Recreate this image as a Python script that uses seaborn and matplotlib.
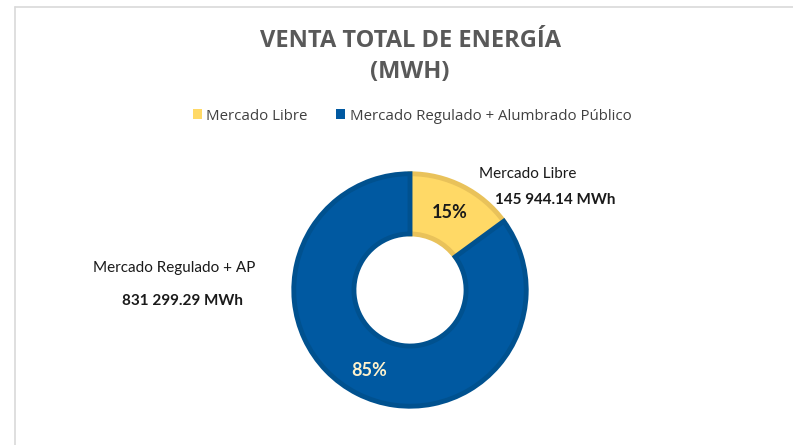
import matplotlib

matplotlib.use("Agg")
import matplotlib.pyplot as plt
from matplotlib.lines import Line2D
from matplotlib.patches import Patch
import seaborn as sns

# data ----------------------------------------------------------------------
segments = ["Mercado Libre", "Mercado Regulado + Alumbrado Público"]
short_labels = ["Mercado Libre", "Mercado Regulado + AP"]
energy_mwh = [145944.14, 831299.29]
fill_colors = ["#FFD966", "#0059A1"]
edge_colors = ["#E9C25A", "#00518F"]

sns.set_theme(style="white")
plt.rcParams["font.family"] = ["Open Sans", "DejaVu Sans"]

W, H = 793, 445
fig = plt.figure(figsize=(W / 100, H / 100), dpi=100)
fig.patch.set_facecolor("white")


def fx(px):
    return px / W


def fy(py):
    return 1 - py / H


# chart frame (top + left border)
fig.add_artist(Line2D([fx(15), 1], [fy(7), fy(7)], color="#D9D9D9", lw=1.2))
fig.add_artist(Line2D([fx(15), fx(15)], [fy(7), 0], color="#D9D9D9", lw=1.2))

# donut ----------------------------------------------------------------------
cx, cy, r = 410, 290, 118
ax = fig.add_axes([fx(cx - r), fy(cy + r), 2 * r / W, 2 * r / H])
wedges, _ = ax.pie(
    energy_mwh,
    colors=fill_colors,
    startangle=90,
    counterclock=False,
    radius=0.985,
    wedgeprops=dict(width=0.51, linewidth=3.5),
)
for w, ec in zip(wedges, edge_colors):
    w.set_edgecolor(ec)
ax.set_xlim(-1, 1)
ax.set_ylim(-1, 1)
ax.set_aspect("equal")
ax.axis("off")

total = sum(energy_mwh)
pcts = [f"{v / total * 100:.0f}%" for v in energy_mwh]

# title -------------------------------------------------------------------------
fig.text(fx(410), fy(41), "VENTA TOTAL DE ENERGÍA", ha="center", va="center",
         fontsize=17, fontweight="bold", color="#595959")
fig.text(fx(410), fy(72), "(MWH)", ha="center", va="center",
         fontsize=17, fontweight="bold", color="#595959")

# legend ------------------------------------------------------------------------
handles = [Patch(facecolor=c, edgecolor="none") for c in fill_colors]
leg = fig.legend(handles, segments, loc="center", bbox_to_anchor=(fx(412), fy(116)),
                 ncol=2, frameon=False, handlelength=0.6,
                 handleheight=0.6, handletextpad=0.3, columnspacing=1.9,
                 prop={"family": ["Open Sans", "DejaVu Sans"], "size": 10.8})
for t in leg.get_texts():
    t.set_color("#404040")

# data labels -------------------------------------------------------------------
lab_font = ["Lato", "DejaVu Sans"]
fig.text(fx(528), fy(174), short_labels[0], ha="center", va="center",
         fontsize=11, family=lab_font, color="#1a1a1a")
fig.text(fx(555), fy(200), f"{energy_mwh[0]:,.2f}".replace(",", " ") + " MWh",
         ha="center", va="center", fontsize=11, fontweight="bold",
         family=lab_font, color="#1a1a1a")
fig.text(fx(174), fy(268), short_labels[1], ha="center", va="center",
         fontsize=11, family=lab_font, color="#1a1a1a")
fig.text(fx(183), fy(301), f"{energy_mwh[1]:,.2f}".replace(",", " ") + " MWh",
         ha="center", va="center", fontsize=11, fontweight="bold",
         family=lab_font, color="#1a1a1a")

fig.text(fx(450), fy(213), pcts[0], ha="center", va="center",
         fontsize=13, fontweight="bold", family=lab_font, color="#1a1a1a")
fig.text(fx(369), fy(371), pcts[1], ha="center", va="center",
         fontsize=13, fontweight="bold", family=lab_font, color="#FFF2CC")

fig.savefig("out.png", dpi=100)
